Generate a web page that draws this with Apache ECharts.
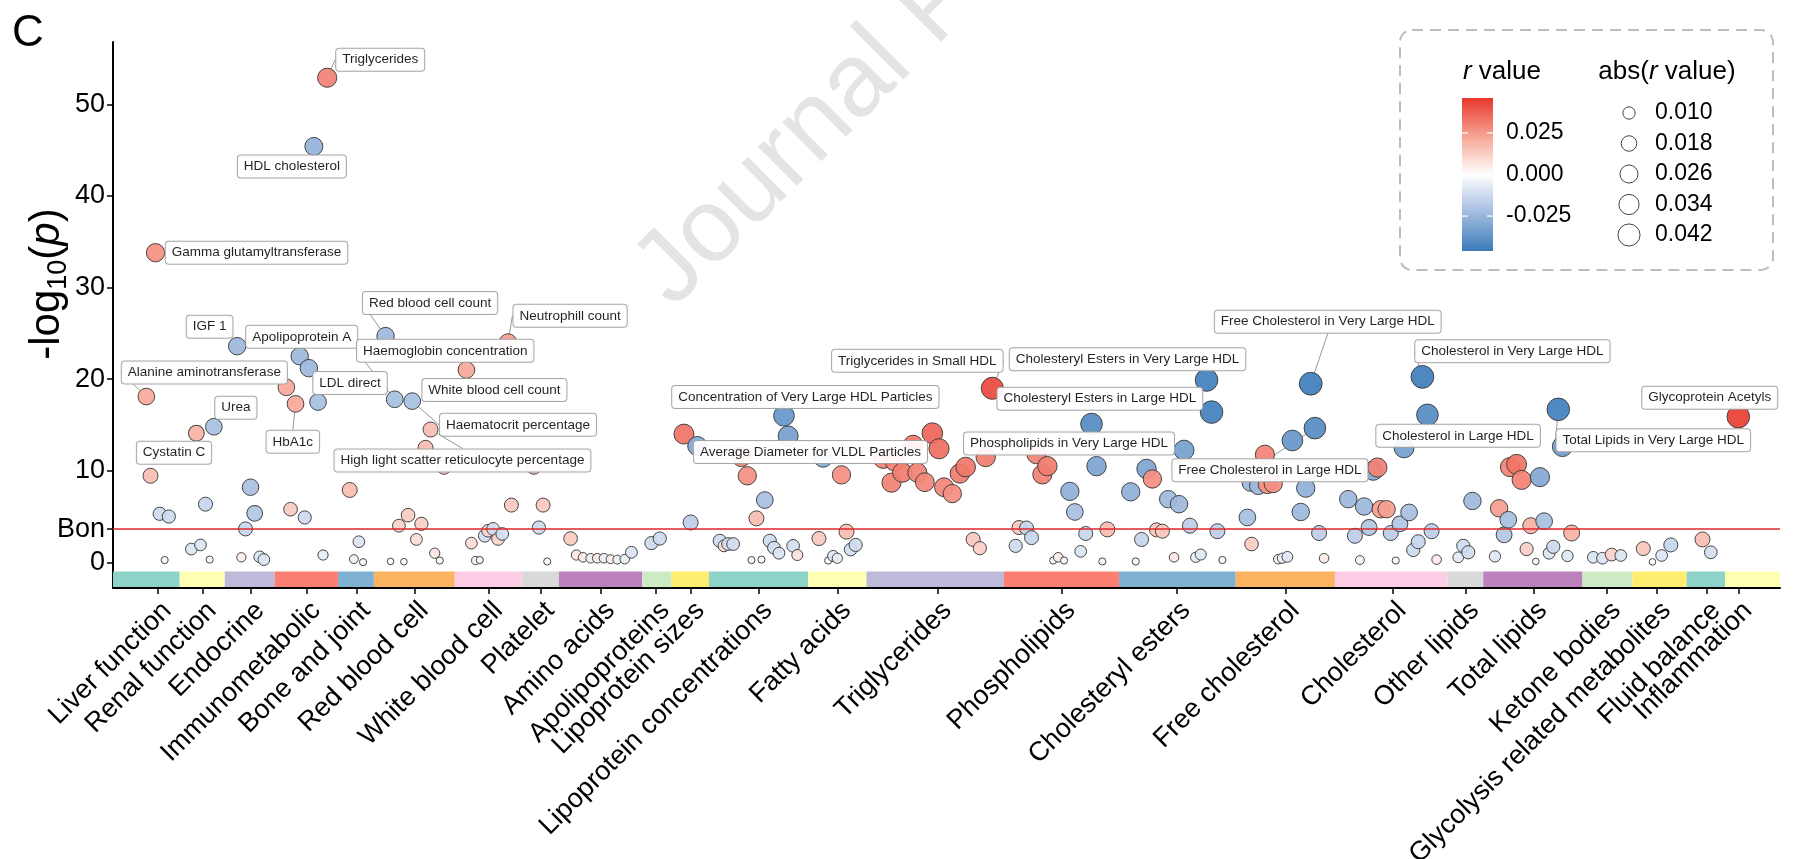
<!DOCTYPE html>
<html>
<head>
<meta charset="utf-8">
<script src="https://cdn.jsdelivr.net/npm/echarts@6/dist/echarts.min.js"></script>
<style>
  html, body { margin: 0; padding: 0; background: #ffffff; }
  #chart { width: 1794px; height: 859px; }
</style>
</head>
<body>
<div id="chart"></div>
<script>
// ---------------- data ----------------
const categories = [
  'Liver function', 'Renal function', 'Endocrine', 'Immunometabolic', 'Bone and joint',
  'Red blood cell', 'White blood cell', 'Platelet', 'Amino acids', 'Apolipoproteins',
  'Lipoprotein sizes', 'Lipoprotein concentrations', 'Fatty acids', 'Triglycerides',
  'Phospholipids', 'Cholesteryl esters', 'Free cholesterol', 'Cholesterol', 'Other lipids',
  'Total lipids', 'Ketone bodies', 'Glycolysis related metabolites', 'Fluid balance', 'Inflammation'
];

// edges of the coloured category strip along the x axis (position units)
const bandEdges = [0, 8.0, 13.4, 19.4, 27.0, 31.3, 41.0, 49.1, 53.5, 63.5, 67.0, 71.5, 83.4,
  90.4, 106.9, 120.7, 134.7, 146.6, 160.1, 164.4, 176.3, 182.3, 188.8, 193.4, 200];

// number of traits in each category, in plotting order
const groupSizes = [6, 6, 7, 10, 4, 14, 11, 4, 10, 2, 3, 17, 9, 17, 18, 18, 17, 20, 4, 18, 4, 4, 2, 1];

// trait position along the x axis
const posX = [
  4.0, 4.5, 5.1, 5.6, 6.2, 6.7,                                   // Liver function
  9.4, 10.0, 10.5, 11.1, 11.6, 12.1,                              // Renal function
  14.9, 15.4, 15.9, 16.5, 17.0, 17.6, 18.1,                       // Endocrine
  20.8, 21.3, 21.9, 22.4, 23.0, 23.5, 24.1, 24.6, 25.2, 25.7,     // Immunometabolic
  28.4, 28.9, 29.5, 30.0,                                         // Bone and joint
  32.7, 33.3, 33.8, 34.3, 34.9, 35.4, 35.9, 36.4, 37.0, 37.5, 38.1, 38.6, 39.2, 39.7, // Red blood cell
  42.4, 43.0, 43.5, 44.0, 44.6, 45.0, 45.6, 46.2, 46.7, 47.4, 47.8,  // White blood cell
  50.5, 51.1, 51.6, 52.1,                                         // Platelet
  54.9, 55.6, 56.4, 57.3, 58.1, 58.9, 59.7, 60.5, 61.4, 62.2,     // Amino acids
  64.6, 65.6,                                                     // Apolipoproteins
  68.5, 69.3, 70.1,                                               // Lipoprotein sizes
  72.8, 73.3, 73.8, 74.4, 75.4, 76.1, 76.6, 77.2, 77.8, 78.2, 78.8, 79.3, 79.9, 80.5, 81.0, 81.6, 82.1, // Lipoprotein concentrations
  84.7, 85.2, 85.8, 86.4, 86.9, 87.4, 88.0, 88.5, 89.1,           // Fatty acids
  92.4, 93.4, 93.8, 94.7, 96.0, 96.5, 97.4, 98.3, 99.1, 99.7, 100.7, 101.6, 102.3, 103.2, 104.0, 104.7, 105.5, // Triglycerides
  108.3, 108.7, 109.6, 110.2, 110.8, 111.5, 112.1, 112.8, 113.4, 114.1, 114.8, 115.4, 116.1, 116.7, 117.4, 118.0, 118.7, 119.3, // Phospholipids
  122.1, 122.7, 123.4, 124.0, 124.7, 125.2, 125.9, 126.6, 127.3, 127.9, 128.5, 129.2, 129.9, 130.5, 131.2, 131.8, 132.5, 133.1, // Cholesteryl esters
  136.1, 136.5, 136.6, 137.4, 138.2, 138.5, 139.2, 139.8, 140.3, 140.9, 141.5, 142.5, 143.1, 143.7, 144.2, 144.7, 145.3, // Free cholesterol
  148.2, 149.0, 149.6, 150.1, 150.7, 151.2, 151.7, 152.1, 152.8, 153.3, 153.9, 154.4, 154.9, 155.5, 156.0, 156.6, 157.1, 157.7, 158.2, 158.8, // Cholesterol
  161.4, 162.0, 162.6, 163.1,                                     // Other lipids
  165.8, 166.3, 166.9, 167.4, 167.6, 168.4, 169.0, 169.6, 170.1, 170.7, 171.2, 171.7, 172.3, 172.8, 173.4, 173.9, 174.5, 175.0, // Total lipids
  177.6, 178.7, 179.8, 180.9,                                     // Ketone bodies
  183.6, 184.7, 185.8, 186.9,                                     // Glycolysis related metabolites
  190.7, 191.7,                                                   // Fluid balance
  195.0                                                           // Inflammation
];

// -log10(p)
const negLog10P = [
  18.1, 9.45, 33.8, 5.3, 0.25, 5.0,
  1.45, 14.1, 1.9, 6.35, 0.3, 14.8,
  23.6, 0.55, 3.65, 8.2, 5.35, 0.6, 0.3,
  19.1, 5.8, 17.3, 22.5, 4.9, 21.2, 45.4, 17.5, 0.8, 52.9,
  7.9, 0.35, 2.25, 0.02,
  24.7, 0.1, 17.8, 4.0, 0.07, 5.15, 17.6, 2.5, 4.2, 12.5, 14.5, 1.0, 0.2, 10.4,
  21.0, 2.1, 0.2, 0.25, 2.9, 3.45, 3.65, 2.55, 3.1, 24.0, 6.25,
  10.4, 3.8, 6.25, 0.1,
  2.6, 0.8, 0.55, 0.45, 0.45, 0.45, 0.35, 0.3, 0.35, 1.1,
  2.1, 2.6,
  14.0, 4.35, 12.7,
  2.35, 1.8, 2.0, 2.0, 11.5, 9.45, 0.25, 4.8, 0.3, 6.8, 2.35, 1.6, 1.0, 16.0, 13.8, 1.8, 0.8,
  2.6, 11.4, 0.2, 0.7, 0.45, 9.55, 3.35, 1.4, 1.9,
  11.3, 8.7, 11.0, 9.8, 12.8, 9.8, 8.75, 14.1, 12.4, 8.2, 7.5, 9.7, 10.4, 2.5, 1.55, 11.5, 19.0,
  1.8, 3.8, 3.75, 2.7, 11.8, 9.6, 10.5, 0.2, 0.55, 0.2, 7.75, 5.5, 1.2, 3.15, 15.1, 10.5, 0.1, 3.6,
  7.7, 0.1, 2.5, 10.2, 9.1, 3.55, 3.4, 6.9, 0.55, 6.35, 12.25, 4.0, 0.55, 0.85, 19.9, 16.4, 3.4, 0.25,
  4.9, 8.7, 2.0, 8.35, 11.75, 8.5, 8.6, 0.35, 0.45, 0.6, 13.3, 5.5, 8.1, 19.5, 14.65, 3.2, 0.45,
  6.9, 2.9, 0.25, 6.1, 3.8, 10.0, 10.35, 5.8, 5.8, 3.2, 0.2, 4.2, 12.5, 5.45, 1.35, 2.25, 20.25, 16.1, 3.4, 0.3,
  0.55, 1.8, 1.1, 6.7,
  0.65, 5.9, 3.0, 4.65, 10.4, 10.7, 9.0, 1.45, 4.0, 0.1, 9.3, 4.5, 1.0, 1.7, 16.7, 12.65, 0.7, 3.2,
  0.55, 0.45, 0.85, 0.75,
  1.5, 0.05, 0.75, 1.9,
  2.5, 1.1,
  15.9
];

// correlation coefficient r
const rValue = [
  0.0216, 0.0166, 0.027, -0.012, -0.002, -0.012,
  -0.0087, 0.019, -0.0087, -0.014, -0.002, -0.0216,
  -0.024, 0.0046, -0.014, -0.021, -0.019, -0.0087, -0.0087,
  0.0216, 0.013, 0.0216, -0.024, -0.012, -0.024, -0.026, -0.0216, -0.006, 0.030,
  0.0166, -0.004, -0.0087, -0.002,
  -0.024, -0.0015, -0.0216, 0.011, 0.0015, 0.013, -0.0216, 0.009, 0.012, 0.0166, 0.0166, 0.006, 0.002, 0.015,
  0.0216, 0.0087, 0.003, -0.002, -0.0108, 0.0108, -0.0108, 0.0108, -0.0108, 0.024, 0.014,
  0.015, -0.012, 0.014, -0.002,
  0.013, 0.006, 0.005, -0.005, 0.005, -0.005, 0.004, -0.004, -0.005, -0.009,
  -0.012, -0.012,
  0.033, -0.0166, -0.030,
  -0.012, 0.009, -0.011, -0.011, 0.030, 0.027, 0.002, 0.0166, -0.002, -0.0216, -0.012, -0.011, -0.009, -0.036, -0.033, -0.0108, 0.0074,
  0.014, -0.028, 0.002, -0.0074, -0.006, 0.027, 0.0166, -0.0108, -0.012,
  0.030, 0.030, 0.030, 0.031, 0.032, 0.030, 0.029, 0.036, 0.034, 0.029, 0.027, 0.031, 0.032, 0.014, 0.012, 0.031, 0.042,
  -0.012, 0.014, -0.014, -0.014, 0.030, 0.030, 0.031, 0.002, 0.005, -0.002, -0.027, -0.0216, -0.0087, -0.014, -0.040, -0.031, -0.002, 0.0166,
  -0.027, -0.002, -0.014, -0.031, 0.027, 0.014, 0.014, -0.024, 0.005, -0.024, -0.033, -0.0166, -0.006, -0.0074, -0.044, -0.044, -0.0166, -0.002,
  -0.0216, -0.024, 0.013, -0.024, 0.030, 0.027, 0.027, -0.005, -0.006, -0.007, -0.036, -0.024, -0.027, -0.045, -0.040, -0.0166, 0.005,
  -0.024, -0.0166, 0.004, -0.024, -0.019, -0.030, 0.030, 0.024, 0.024, -0.0166, 0.002, -0.019, -0.033, -0.0216, -0.012, -0.014, -0.045, -0.040, -0.0166, 0.005,
  -0.007, -0.012, -0.012, -0.024,
  -0.008, 0.024, -0.019, -0.0216, 0.030, 0.033, 0.030, 0.012, 0.0194, 0.0015, -0.030, -0.0216, -0.009, -0.012, -0.044, -0.034, -0.008, 0.0194,
  -0.0087, -0.0087, 0.011, -0.0087,
  0.014, 0.0015, -0.0087, -0.014,
  0.0166, -0.011,
  0.044
];

// traits that carry a text label: [trait index, name]
const labelledTraits = [
  [0, 'Alanine aminotransferase'], [1, 'Cystatin C'], [2, 'Gamma glutamyltransferase'],
  [11, 'Urea'], [12, 'IGF 1'], [21, 'HbA1c'], [22, 'Apolipoprotein A'], [25, 'HDL cholesterol'],
  [26, 'LDL direct'], [28, 'Triglycerides'], [33, 'Red blood cell count'],
  [35, 'Haemoglobin concentration'], [39, 'Haematocrit percentage'],
  [43, 'High light scatter reticulocyte percentage'], [47, 'White blood cell count'],
  [56, 'Neutrophill count'], [74, 'Average Diameter for VLDL Particles'],
  [90, 'Concentration of Very Large HDL Particles'], [119, 'Triglycerides in Small HDL'],
  [134, 'Phospholipids in Very Large HDL'], [152, 'Cholesteryl Esters in Very Large HDL'],
  [153, 'Cholesteryl Esters in Large HDL'], [169, 'Free Cholesterol in Very Large HDL'],
  [170, 'Free Cholesterol in Large HDL'], [185, 'Cholesterol in Large HDL'],
  [189, 'Cholesterol in Very Large HDL'], [211, 'Total Lipids in Very Large HDL'],
  [225, 'Glycoprotein Acetyls']
];

const bonferroniLine = 3.63;
const yTickValues = [0, 10, 20, 30, 40, 50];
const colorbarTicks = [0.025, 0.000, -0.025];
const sizeLegendValues = [0.010, 0.018, 0.026, 0.034, 0.042];

// ---------------- styling / layout ----------------
const FONT = "'Liberation Sans', Arial, Helvetica, sans-serif";
const stripPalette = ['#8DD3C7', '#FFFFB3', '#BEBADA', '#FB8072', '#80B1D3', '#FDB462',
  '#FCCDE5', '#D9D9D9', '#BC80BD', '#CCEBC5', '#FFED6F'];
const rLimit = 0.046;
const rColors = ['#3b7cba', '#a2bbdf', '#ffffff', '#f6a393', '#e8372c'];
const X_MIN = 0, X_MAX = 200;
const Y_MIN = -2.8, Y_MAX = 56.8;
const STRIP_TOP = -1.0, STRIP_BOTTOM = -2.7;

// point diameter from |r|
function dotSize(r) { return 3 + 20 * Math.sqrt(Math.abs(r) / rLimit); }

// label box offset from its point (px) and whether a leader line is drawn
const labelPlacement = {
  'Triglycerides': [53, -18, true],
  'HDL cholesterol': [-22, 20, false],
  'Gamma glutamyltransferase': [101, 0, false],
  'Alanine aminotransferase': [58, -24, true],
  'Cystatin C': [23.5, -23, false],
  'Urea': [22, -19, false],
  'IGF 1': [-27.6, -19.4, false],
  'Apolipoprotein A': [2, -19.4, false],
  'HbA1c': [-2.7, 38, true],
  'LDL direct': [32, -19, false],
  'Red blood cell count': [44.5, -33, true],
  'Haemoglobin concentration': [50.5, -48.5, true],
  'White blood cell count': [28, 20, false],
  'Haematocrit percentage': [105.8, 23.7, true],
  'High light scatter reticulocyte percentage': [31.9, 30.9, true],
  'Neutrophill count': [62, -26.7, true],
  'Concentration of Very Large HDL Particles': [21.4, -18.8, false],
  'Average Diameter for VLDL Particles': [126.5, 18, false],
  'Triglycerides in Small HDL': [-75, -27.5, true],
  'Cholesteryl Esters in Very Large HDL': [-79, -20.7, false],
  'Cholesteryl Esters in Large HDL': [-111.7, -13.4, false],
  'Phospholipids in Very Large HDL': [-22.5, 19.5, false],
  'Free Cholesterol in Very Large HDL': [17, -62, true],
  'Free Cholesterol in Large HDL': [-45, 42, true],
  'Cholesterol in Very Large HDL': [90, -25.5, true],
  'Cholesterol in Large HDL': [54, -12, false],
  'Total Lipids in Very Large HDL': [95, 31, true],
  'Glycoprotein Acetyls': [-28.6, -19, false]
};

// ---------------- derived structures ----------------
const labelOf = {};
labelledTraits.forEach(([i, name]) => { labelOf[i] = name; });

// category tick = centre of its traits' span
const categoryTicks = [];
let start = 0;
groupSizes.forEach((n) => {
  const xs = posX.slice(start, start + n);
  categoryTicks.push((Math.min(...xs) + Math.max(...xs)) / 2);
  start += n;
});
// axis label values: blank end stops keep every category name visible
const labelValues = [X_MIN].concat(categoryTicks, [X_MAX]);
function categoryAt(v) {
  if (v <= X_MIN || v >= X_MAX) return '';
  let best = 0, d = Infinity;
  categoryTicks.forEach((t, i) => { if (Math.abs(t - v) < d) { d = Math.abs(t - v); best = i; } });
  return categories[best];
}

const stripData = [];
for (let i = 0; i < categories.length; i++) {
  stripData.push([bandEdges[i], bandEdges[i + 1], STRIP_TOP, STRIP_BOTTOM]);
}

const scatterData = posX.map((x, i) => {
  const item = { value: [x, negLog10P[i], rValue[i]] };
  const name = labelOf[i];
  if (name) {
    item.name = name;
    item.label = { show: true };
    if (labelPlacement[name] && labelPlacement[name][2]) item.labelLine = { show: true };
  }
  return item;
});

// ---------------- chart ----------------
const chart = echarts.init(document.getElementById('chart'), null, { renderer: 'canvas' });

const gridLeft = 113, gridRight = 14, gridTop = 42, gridBottom = 271;

// legend geometry
const cbX = 1462, cbY = 98, cbW = 31, cbH = 153;
const cbYOf = (v) => cbY + (rLimit - v) / (2 * rLimit) * cbH;
const legendGraphics = [
  {
    type: 'rect', z: 10,
    shape: { x: 1400, y: 30, width: 373, height: 240, r: 12 },
    style: { fill: 'rgba(255,255,255,0)', stroke: '#bdbdbd', lineWidth: 2, lineDash: [11, 7] }
  },
  {
    type: 'text', z: 10, x: 1502, y: 72,
    style: {
      text: '{i|r}{n| value}', align: 'center', verticalAlign: 'middle',
      rich: { i: { fontSize: 26, fontStyle: 'italic', fontFamily: FONT, fill: '#000' },
              n: { fontSize: 26, fontFamily: FONT, fill: '#000' } }
    }
  },
  {
    type: 'text', z: 10, x: 1667, y: 72,
    style: {
      text: '{n|abs(}{i|r}{n| value)}', align: 'center', verticalAlign: 'middle',
      rich: { i: { fontSize: 26, fontStyle: 'italic', fontFamily: FONT, fill: '#000' },
              n: { fontSize: 26, fontFamily: FONT, fill: '#000' } }
    }
  },
  {
    type: 'rect', z: 10,
    shape: { x: cbX, y: cbY, width: cbW, height: cbH },
    style: {
      fill: new echarts.graphic.LinearGradient(0, 0, 0, 1, [
        { offset: 0, color: rColors[4] }, { offset: 0.25, color: rColors[3] },
        { offset: 0.5, color: rColors[2] }, { offset: 0.75, color: rColors[1] },
        { offset: 1, color: rColors[0] }
      ])
    }
  }
];
colorbarTicks.forEach((v) => {
  const y = cbYOf(v);
  legendGraphics.push(
    { type: 'line', z: 11, shape: { x1: cbX, y1: y, x2: cbX + 6, y2: y }, style: { stroke: '#ffffff', lineWidth: 1.2 } },
    { type: 'line', z: 11, shape: { x1: cbX + cbW - 6, y1: y, x2: cbX + cbW, y2: y }, style: { stroke: '#ffffff', lineWidth: 1.2 } },
    { type: 'text', z: 10, x: 1506, y: y,
      style: { text: v.toFixed(3), fontSize: 23, fontFamily: FONT, fill: '#000', align: 'left', verticalAlign: 'middle' } }
  );
});
sizeLegendValues.forEach((v, i) => {
  const y = 113 + i * 30.5;
  legendGraphics.push(
    { type: 'circle', z: 10, shape: { cx: 1629, cy: y, r: dotSize(v) / 2 },
      style: { fill: '#ffffff', stroke: '#444444', lineWidth: 1 } },
    { type: 'text', z: 10, x: 1655, y: y,
      style: { text: v.toFixed(3), fontSize: 23, fontFamily: FONT, fill: '#000', align: 'left', verticalAlign: 'middle' } }
  );
});

const option = {
  animation: false,
  backgroundColor: '#ffffff',
  grid: {
    left: gridLeft, right: gridRight, top: gridTop, bottom: gridBottom,
    containLabel: false, outerBoundsMode: 'none'
  },
  xAxis: {
    type: 'value', min: X_MIN, max: X_MAX,
    splitLine: { show: false },
    axisLine: { show: true, onZero: false, lineStyle: { color: '#000', width: 2 } },
    axisTick: { show: true, customValues: categoryTicks, length: 6, lineStyle: { color: '#000', width: 1.5 } },
    axisLabel: {
      customValues: labelValues, formatter: (v) => categoryAt(v),
      rotate: 45, fontSize: 27, fontFamily: FONT, color: '#000', margin: 9,
      align: 'right', verticalAlign: 'top', hideOverlap: false
    }
  },
  yAxis: {
    type: 'value', min: Y_MIN, max: Y_MAX,
    splitLine: { show: false },
    axisLine: { show: true, onZero: false, lineStyle: { color: '#000', width: 2 } },
    axisTick: { show: true, customValues: [bonferroniLine].concat(yTickValues), length: 6, lineStyle: { color: '#000', width: 1.5 } },
    axisLabel: {
      customValues: [bonferroniLine].concat(yTickValues),
      formatter: (v) => (Math.abs(v - bonferroniLine) < 1e-6 ? 'Bon' : String(v)),
      fontSize: 27, fontFamily: FONT, color: '#000', margin: 8, hideOverlap: false
    }
  },
  visualMap: {
    type: 'continuous', show: false, seriesIndex: 1, dimension: 2,
    min: -rLimit, max: rLimit, inRange: { color: rColors }
  },
  series: [
    {
      type: 'custom', silent: true, z: 1,
      encode: { x: [0, 1], y: [2, 3] },
      data: stripData,
      renderItem: (params, api) => {
        const p0 = api.coord([api.value(0), api.value(2)]);
        const p1 = api.coord([api.value(1), api.value(3)]);
        return {
          type: 'rect',
          shape: { x: p0[0], y: p0[1], width: p1[0] - p0[0], height: p1[1] - p0[1] },
          style: { fill: stripPalette[params.dataIndex % stripPalette.length] }
        };
      }
    },
    {
      type: 'scatter', z: 3,
      data: scatterData,
      symbol: 'circle',
      symbolSize: (val) => dotSize(val[2]),
      itemStyle: { borderColor: '#3a3a3a', borderWidth: 1, opacity: 0.93 },
      label: {
        show: false, formatter: (p) => p.name,
        fontSize: 13.5, fontFamily: FONT, color: '#111',
        backgroundColor: '#ffffff', borderColor: '#a0a0a0', borderWidth: 1, borderRadius: 3,
        padding: [4, 6]
      },
      labelLine: { show: false, lineStyle: { color: '#8a8a8a', width: 0.9 } },
      labelLayout: (params) => {
        const item = scatterData[params.dataIndex];
        const pl = item && labelPlacement[item.name];
        if (!pl) return {};
        const cx = params.rect.x + params.rect.width / 2;
        const cy = params.rect.y + params.rect.height / 2;
        return { x: cx + pl[0], y: cy + pl[1], align: 'center', verticalAlign: 'middle' };
      },
      markLine: {
        silent: true, symbol: 'none',
        label: { show: false },
        lineStyle: { color: '#e0262a', width: 1.5, type: 'solid' },
        data: [{ yAxis: bonferroniLine }]
      }
    }
  ],
  graphic: [
    {
      type: 'text', z: -10, x: 653, y: 289, rotation: Math.PI / 4,
      style: { text: 'Journal Pre-proof', fontSize: 104, fontFamily: FONT, fill: '#e4e4e4',
               align: 'left', verticalAlign: 'middle' }
    },
    {
      type: 'text', x: 12, y: 12,
      style: { text: 'C', fontSize: 44, fontFamily: FONT, fill: '#000', align: 'left', verticalAlign: 'top' }
    },
    {
      type: 'text', x: 47, y: 284, rotation: Math.PI / 2,
      style: {
        text: '{n|-log}{s|10}{n|(}{i|p}{n|)}', align: 'center', verticalAlign: 'middle',
        rich: {
          n: { fontSize: 42, fontFamily: FONT, fill: '#000', lineHeight: 50, verticalAlign: 'middle' },
          s: { fontSize: 27, fontFamily: FONT, fill: '#000', lineHeight: 27, verticalAlign: 'bottom' },
          i: { fontSize: 42, fontFamily: FONT, fill: '#000', fontStyle: 'italic', lineHeight: 50, verticalAlign: 'middle' }
        }
      }
    }
  ].concat(legendGraphics)
};

chart.setOption(option);
</script>
</body>
</html>
